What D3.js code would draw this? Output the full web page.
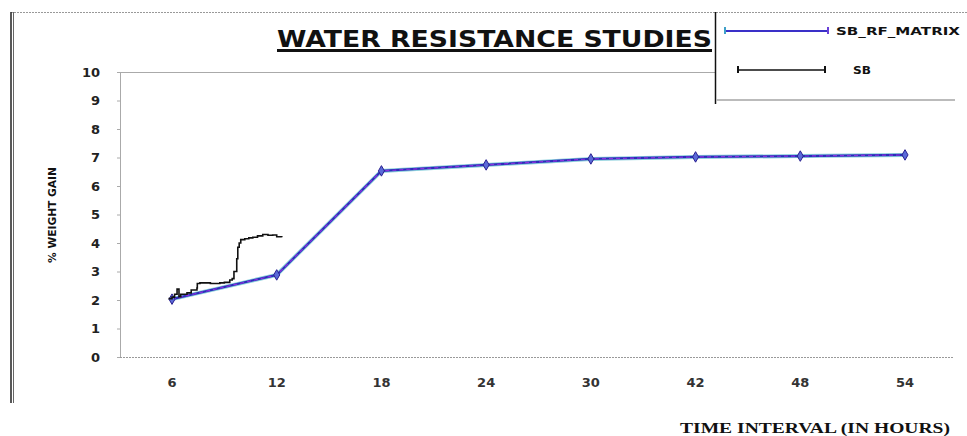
<!DOCTYPE html>
<html>
<head>
<meta charset="utf-8">
<script src="https://cdn.jsdelivr.net/npm/d3@7"></script>
<style>
  body { margin: 0; background: #fff; }
  svg { display: block; }
</style>
</head>
<body>
<svg id="chart" width="967" height="436"></svg>
<script>
// category labels on the time axis (hours)
const hours = ["6", "12", "18", "24", "30", "42", "48", "54"];
// SB_RF_MATRIX % weight gain at each interval
const matrixGain = [2.03, 2.88, 6.53, 6.74, 6.95, 7.02, 7.05, 7.09];
// SB trace, hand-read (hour, % gain)
const sbHours = [5.8, 6.0, 6.15, 6.29, 6.4, 6.5, 6.86, 7.1, 7.43, 7.45, 7.6, 8.2, 8.74, 9.0, 9.31, 9.45, 9.55, 9.71, 9.77, 9.85, 9.94, 10.17, 10.4, 10.63, 10.9, 11.2, 11.5, 11.77, 12.0, 12.29];
const sbGain  = [2.05, 2.1, 2.2, 2.38, 2.12, 2.2, 2.25, 2.35, 2.42, 2.58, 2.6, 2.58, 2.6, 2.62, 2.7, 2.75, 3.0, 3.45, 3.85, 4.0, 4.12, 4.15, 4.18, 4.2, 4.25, 4.3, 4.27, 4.28, 4.22, 4.2];
const yTicks = [0, 1, 2, 3, 4, 5, 6, 7, 8, 9, 10];

const svg = d3.select("#chart");

const x = d3.scalePoint().domain(hours).range([172, 905]);
// positions inside the first interval for the SB trace
const xHour = d3.scaleLinear().domain([6, 12]).range([x("6"), x("12")]);
const y = d3.scaleLinear().domain([0, 10]).range([357, 72]);

// outer frame: dotted top, heavy left edge
svg.append("line")
  .attr("x1", 11).attr("x2", 967).attr("y1", 12.5).attr("y2", 12.5)
  .attr("stroke", "#999").attr("stroke-dasharray", "2,1");
svg.append("line")
  .attr("x1", 11).attr("x2", 11).attr("y1", 12).attr("y2", 403)
  .attr("stroke", "#222").attr("stroke-width", 1.5);
svg.append("line")
  .attr("x1", 13.5).attr("x2", 13.5).attr("y1", 12).attr("y2", 403)
  .attr("stroke", "#666").attr("stroke-width", 1);

// plot top border
svg.append("line")
  .attr("x1", 120).attr("x2", 715).attr("y1", 72.5).attr("y2", 72.5)
  .attr("stroke", "#aaa");

// y axis
svg.append("line")
  .attr("x1", 120.5).attr("x2", 120.5).attr("y1", y(10)).attr("y2", y(0))
  .attr("stroke", "#aaa");
svg.selectAll(".ytick")
  .data(yTicks)
  .enter().append("line")
  .attr("class", "ytick")
  .attr("x1", 117).attr("x2", 121)
  .attr("y1", d => y(d) + 0.5).attr("y2", d => y(d) + 0.5)
  .attr("stroke", "#aaa");
svg.selectAll(".ylab")
  .data(yTicks)
  .enter().append("text")
  .attr("class", "ylab")
  .attr("x", 100)
  .attr("y", d => y(d))
  .attr("dy", "0.36em")
  .attr("text-anchor", "end")
  .style("font-family", "DejaVu Sans")
  .style("font-weight", "bold")
  .style("font-size", "13px")
  .style("fill", "#222")
  .text(d => d);

// x axis (dotted)
svg.append("line")
  .attr("x1", 120).attr("x2", 953).attr("y1", y(0) + 0.5).attr("y2", y(0) + 0.5)
  .attr("stroke", "#999").attr("stroke-dasharray", "2,1");
svg.selectAll(".xlab")
  .data(hours)
  .enter().append("text")
  .attr("class", "xlab")
  .attr("x", d => x(d))
  .attr("y", 382)
  .attr("dy", "0.36em")
  .attr("text-anchor", "middle")
  .style("font-family", "DejaVu Sans")
  .style("font-weight", "bold")
  .style("font-size", "13px")
  .style("fill", "#333")
  .text(d => d);

// main series: SB_RF_MATRIX
const line = d3.line().x((d, i) => x(hours[i])).y(d => y(d));
svg.append("path")
  .datum(matrixGain)
  .attr("d", line)
  .attr("fill", "none")
  .attr("stroke", "#3fb0c4")
  .attr("stroke-opacity", 0.6)
  .attr("stroke-width", 4);
svg.append("path")
  .datum(matrixGain)
  .attr("d", line)
  .attr("fill", "none")
  .attr("stroke", "#2a2fb8")
  .attr("stroke-width", 2.2);
svg.append("path")
  .datum(matrixGain)
  .attr("d", line)
  .attr("fill", "none")
  .attr("stroke", "#8a30e0")
  .attr("stroke-width", 1.2)
  .attr("stroke-dasharray", "4,3");

svg.selectAll(".mark")
  .data(matrixGain)
  .enter().append("path")
  .attr("class", "mark")
  .attr("transform", (d, i) => "translate(" + x(hours[i]) + "," + y(d) + ")")
  .attr("d", d3.symbol().type(d3.symbolDiamond).size(32))
  .attr("fill", "#5a6ad8")
  .attr("stroke", "#2a2090")
  .attr("stroke-width", 1);

// SB trace
svg.append("path")
  .datum(sbHours.map((h, i) => [h, sbGain[i]]))
  .attr("d", d3.line().x(d => xHour(d[0])).y(d => y(d[1])).curve(d3.curveStepAfter))
  .attr("fill", "none")
  .attr("stroke", "#111")
  .attr("stroke-width", 1.6);

// title
svg.append("text")
  .attr("x", 277)
  .attr("y", 47)
  .attr("textLength", 435)
  .attr("lengthAdjust", "spacingAndGlyphs")
  .style("font-family", "DejaVu Sans")
  .style("font-weight", "bold")
  .style("font-size", "23px")
  .style("fill", "#111")
  .style("text-decoration", "underline")
  .text("WATER RESISTANCE STUDIES");
svg.append("line")
  .attr("x1", 277).attr("x2", 712).attr("y1", 51).attr("y2", 51)
  .attr("stroke", "#111").attr("stroke-width", 2);

// y axis title
svg.append("text")
  .attr("transform", "translate(56,215) rotate(-90)")
  .attr("text-anchor", "middle")
  .attr("textLength", 96)
  .attr("lengthAdjust", "spacingAndGlyphs")
  .style("font-family", "DejaVu Sans Condensed")
  .style("font-weight", "bold")
  .style("font-size", "11px")
  .style("fill", "#111")
  .text("% WEIGHT GAIN");

// x axis title
svg.append("text")
  .attr("x", 680)
  .attr("y", 433)
  .attr("textLength", 270)
  .attr("lengthAdjust", "spacingAndGlyphs")
  .style("font-family", "Liberation Serif")
  .style("font-weight", "bold")
  .style("font-size", "14px")
  .style("fill", "#111")
  .text("TIME INTERVAL (IN HOURS)");

// legend box
svg.append("line")
  .attr("x1", 715.5).attr("x2", 715.5).attr("y1", 12).attr("y2", 104)
  .attr("stroke", "#111").attr("stroke-width", 1.5);
svg.append("line")
  .attr("x1", 716).attr("x2", 955).attr("y1", 100).attr("y2", 100)
  .attr("stroke", "#bbb").attr("stroke-width", 2);

const legendRows = [
  { name: "SB_RF_MATRIX", x1: 725, x2: 828, y: 31, tx: 836 },
  { name: "SB", x1: 738, x2: 825, y: 70, tx: 853 }
];

const legend = svg.selectAll(".legend")
  .data(legendRows)
  .enter().append("g")
  .attr("class", "legend");

legend.append("line")
  .attr("x1", d => d.x1).attr("x2", d => d.x2)
  .attr("y1", d => d.y).attr("y2", d => d.y)
  .attr("stroke", (d, i) => i === 0 ? "#3a30c8" : "#111")
  .attr("stroke-width", (d, i) => i === 0 ? 2 : 1.5);
legend.append("line")
  .attr("x1", d => d.x1).attr("x2", d => d.x1)
  .attr("y1", d => d.y - 4).attr("y2", d => d.y + 3)
  .attr("stroke", (d, i) => i === 0 ? "#3fa0c8" : "#111")
  .attr("stroke-width", 2);
legend.append("line")
  .attr("x1", d => d.x2).attr("x2", d => d.x2)
  .attr("y1", d => d.y - 4).attr("y2", d => d.y + 3)
  .attr("stroke", (d, i) => i === 0 ? "#6a40d8" : "#111")
  .attr("stroke-width", 2);
legend.append("text")
  .attr("x", d => d.tx)
  .attr("y", d => d.y)
  .attr("dy", "0.36em")
  .attr("textLength", (d, i) => i === 0 ? 124 : 18)
  .attr("lengthAdjust", "spacingAndGlyphs")
  .style("font-family", "DejaVu Sans")
  .style("font-weight", "bold")
  .style("font-size", "11px")
  .style("fill", "#111")
  .text(d => d.name);
</script>
</body>
</html>
